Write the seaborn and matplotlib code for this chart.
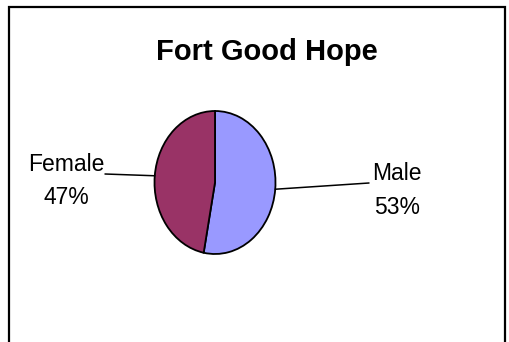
import matplotlib
matplotlib.use("Agg")
import matplotlib.pyplot as plt
import seaborn as sns
import numpy as np
from matplotlib.patches import Rectangle

sns.set_style("white")
plt.rcParams['font.family'] = ['Liberation Sans', 'DejaVu Sans']
plt.rcParams['text.color'] = 'black'

title = "Fort Good Hope"
categories = ["Male", "Female"]
values = [53, 47]
colors = ["#9999FF", "#993366"]

W, H = 509, 342
fig = plt.figure(figsize=(W / 100, H / 100), dpi=100)
fig.patch.set_facecolor("white")

# outer border
fig.patches.append(Rectangle((9 / W, -0.05), 496 / W, (H - 7) / H + 0.05,
                             transform=fig.transFigure, fill=False,
                             edgecolor="black", linewidth=1.6))

# pie axes (elliptical)
cx, cy, rx, ry = 215, H - 182.5, 60.5, 71.5
ax = fig.add_axes([(cx - rx) / W, (cy - ry) / H, 2 * rx / W, 2 * ry / H])
wedges, _ = ax.pie(values, colors=colors, startangle=90, counterclock=False,
                   radius=1.0, wedgeprops=dict(edgecolor="black", linewidth=1.3))
ax.set_aspect("auto")
ax.set_xlim(-1, 1)
ax.set_ylim(-1, 1)
ax.axis("off")

# leader lines + labels
label_ends = {"Male": (369, H - 183), "Female": (105, H - 174)}
label_pos = {"Male": (397, H - 173, H - 207), "Female": (66, H - 165, H - 198)}
inv = ax.transData.inverted()
for w, cat, v in zip(wedges, categories, values):
    mid = np.deg2rad((w.theta1 + w.theta2) / 2)
    p0 = (np.cos(mid), np.sin(mid))
    p1 = inv.transform(label_ends[cat])
    ax.plot([p0[0], p1[0]], [p0[1], p1[1]], color="black", lw=1.1, clip_on=False)
    x, y1, y2 = label_pos[cat]
    fig.text(x / W, y1 / H, cat, ha="center", va="center", fontsize=16.5,
             color="black")
    fig.text(x / W, y2 / H, f"{v}%", ha="center", va="center", fontsize=16.5,
             color="black")

fig.text(267 / W, (H - 52) / H, title, ha="center", va="center",
         fontsize=21, fontweight="bold", color="black")

fig.savefig("out.png", dpi=100)
